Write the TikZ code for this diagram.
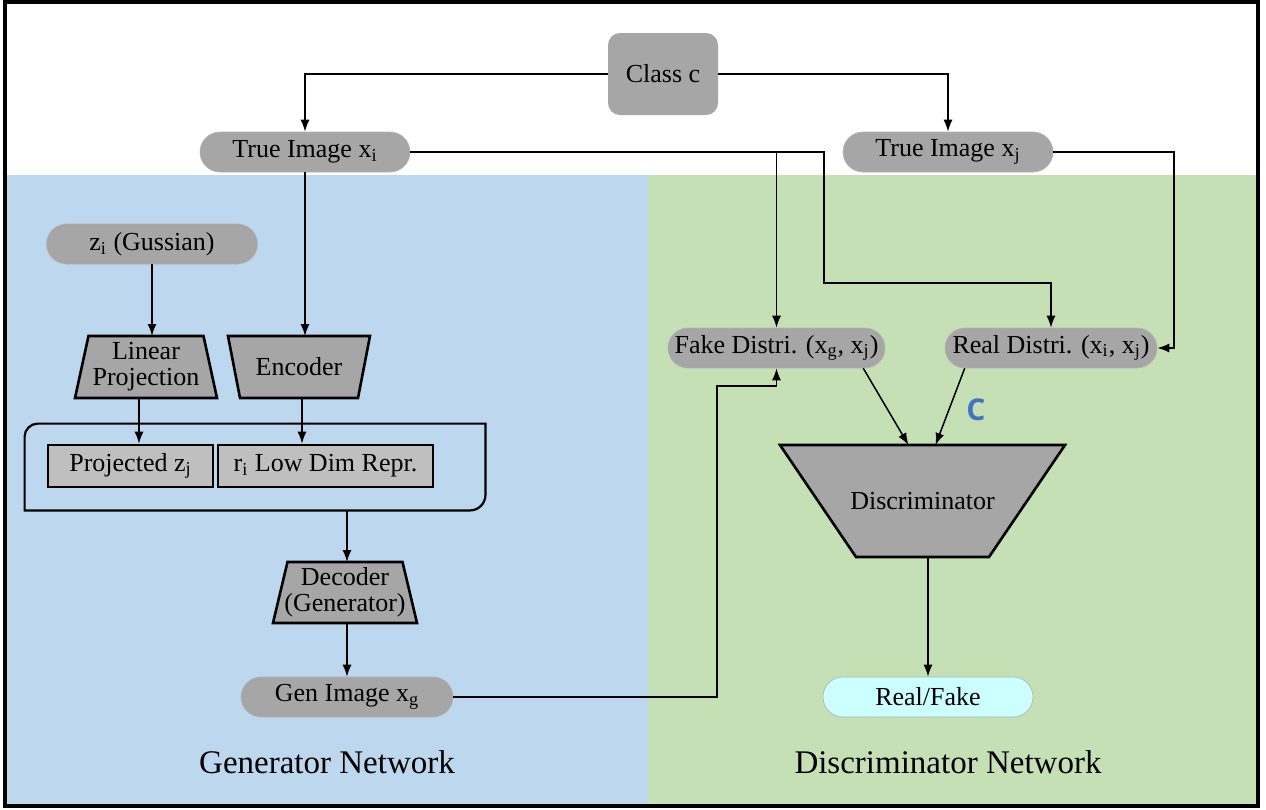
\documentclass[tikz,border=0pt]{standalone}
\usepackage{fontspec}
\setmainfont{Liberation Serif}
\newfontfamily\labelsans{Open Sans}
\usetikzlibrary{calc,arrows.meta}

\definecolor{boxgray}{HTML}{A6A6A6}
\definecolor{lightbox}{HTML}{BFBFBF}
\definecolor{genblue}{HTML}{BDD7EE}
\definecolor{discgreen}{HTML}{C5E0B4}
\definecolor{outcyan}{HTML}{CCFFFF}
\definecolor{markblue}{HTML}{4472C4}

\pgfdeclarelayer{areas}
\pgfdeclarelayer{bodies}
\pgfsetlayers{areas,bodies,main}

\tikzset{
  nodefont/.style={font=\fontsize{13}{15}\selectfont},
  pill/.style={nodefont, rectangle, rounded corners=10pt, fill=boxgray,
    draw=gray!60, line width=0.3pt, minimum height=20pt, inner sep=0pt},
  trapbox/.style={nodefont, rectangle, inner sep=0pt, outer sep=0pt, align=center},
  trapline/.style={fill=boxgray, draw=black, line width=1.3pt, line join=miter},
  flatbox/.style={nodefont, rectangle, fill=lightbox, draw=black,
    line width=1.3pt, minimum height=21pt, inner sep=0pt},
  conn/.style={line width=0.75pt, -{Latex[length=6pt,width=4.5pt]}},
  title/.style={font=\fontsize{16.5}{19}\selectfont}
}

% trapezoid bodies behind named nodes: #1 node, #2 inset of the narrow side
\newcommand\widebottom[2]{%
  \begin{pgfonlayer}{bodies}
  \draw[trapline] (#1.south west) -- ($(#1.north west)+(#2,0)$)
    -- ($(#1.north east)+(-#2,0)$) -- (#1.south east) -- cycle;
  \end{pgfonlayer}}
\newcommand\widetop[2]{%
  \begin{pgfonlayer}{bodies}
  \draw[trapline] (#1.north west) -- ($(#1.south west)+(#2,0)$)
    -- ($(#1.south east)+(-#2,0)$) -- (#1.north east) -- cycle;
  \end{pgfonlayer}}

\begin{document}
\begin{tikzpicture}[x=0.5pt,y=-0.5pt]
\useasboundingbox (0,0) rectangle (1266,810);

% frame and the two network areas
\begin{pgfonlayer}{areas}
\fill[white] (0,0) rectangle (1266,810);
\fill[genblue] (6,175) rectangle (648,805);
\fill[discgreen] (648,175) rectangle (1257,805);
\draw[line width=1.6pt] (5,2) rectangle (1258,806);
\end{pgfonlayer}

% inputs
\node[nodefont, rectangle, rounded corners=6pt, fill=boxgray,
  minimum width=55pt, minimum height=41pt] (cls) at (663,74) {Class c};
\node[pill, minimum width=105pt] (xi) at (305,152) {True Image x\textsubscript{i}};
\node[pill, minimum width=105pt] (xj) at (948,152) {True Image x\textsubscript{j}};

% generator side
\node[pill, minimum width=105.5pt] (z) at (152,244) {z\textsubscript{i} (Gussian)};
\node[trapbox, minimum width=71pt, minimum height=31pt] (lin) at (146,367)
  {Linear\\[-2pt]Projection};
\widebottom{lin}{13.5}
\node[trapbox, minimum width=71pt, minimum height=31pt] (enc) at (299,367) {Encoder};
\widetop{enc}{12}

\node[minimum width=230pt, minimum height=43pt, inner sep=0pt] (grp) at (255,467) {};
\draw[line width=1.1pt]
  (grp.south west) -- ($(grp.north west)+(0,13)$)
  .. controls ($(grp.north west)+(0,6)$) and ($(grp.north west)+(6,0)$) ..
  ($(grp.north west)+(13,0)$) -- (grp.north east) -- ($(grp.south east)+(0,-15)$)
  .. controls ($(grp.south east)+(0,-7)$) and ($(grp.south east)+(-7,0)$) ..
  ($(grp.south east)+(-15,0)$) -- cycle;

\node[flatbox, minimum width=82.5pt] (proj) at (130.5,466) {Projected z\textsubscript{j}};
\node[flatbox, minimum width=107.5pt] (ri) at (325.5,466) {r\textsubscript{i} Low Dim Repr.};

\node[trapbox, minimum width=72pt, minimum height=30.5pt] (dec) at (345,592.5)
  {Decoder\\[-2pt](Generator)};
\widebottom{dec}{14.5}
\node[pill, minimum width=106pt] (gen) at (347,697) {Gen Image x\textsubscript{g}};

% discriminator side
\node[pill, minimum width=108.5pt] (fake) at (776.5,348)
  {Fake Distri. (x\textsubscript{g}, x\textsubscript{j})};
\node[pill, minimum width=106pt] (real) at (1051,348)
  {Real Distri. (x\textsubscript{i}, x\textsubscript{j})};
\node[trapbox, minimum width=142.5pt, minimum height=56pt] (disc) at (922.5,501)
  {Discriminator};
\widetop{disc}{76}
\node[pill, fill=outcyan, minimum width=105pt] (rf) at (928,697) {Real/Fake};
\node[font=\labelsans\bfseries\fontsize{15}{17}\selectfont, text=markblue] (cmark) at (976,410) {C};

% area titles
\node[title] (gtitle) at (327,762) {Generator Network};
\node[title] (dtitle) at (948,762) {Discriminator Network};

% connectors
\coordinate (splitA) at (824,283);
\coordinate (splitB) at (1174,250);
\coordinate (splitC) at (717,386);

\draw[conn] (cls.west) -| (xi.north);
\draw[conn] (cls.east) -| (xj.north);
\draw[conn] (xi.south) -- (xi.south |- enc.north);
\draw[conn] (z.south) -- (z.south |- lin.north);
\draw[conn] ([xshift=-3.5pt]lin.south) -- ([xshift=-3.5pt]lin.south |- proj.north);
\draw[conn] ([xshift=1.5pt]enc.south) -- ([xshift=1.5pt]enc.south |- ri.north);
\draw[conn] (grp.south -| gen.north) -- (gen.north |- dec.north);
\draw[conn] (gen.north |- dec.south) -- (gen.north);
\draw[conn] (xi.east) -| (fake.north);
\draw[conn] (xi.east) -| (splitA) -| (real.north);
\draw[conn] (xj.east) -| (splitB) |- (real.east);
\draw[conn] (gen.east) -| (splitC) -| (fake.south);
\draw[conn] ([xshift=-11pt]fake.south east) -- ([xshift=-7pt]disc.north);
\draw[conn] ([xshift=10pt]real.south west) -- ([xshift=6.5pt]disc.north);
\draw[conn] (rf.north |- disc.south) -- (rf.north);
\end{tikzpicture}
\end{document}
